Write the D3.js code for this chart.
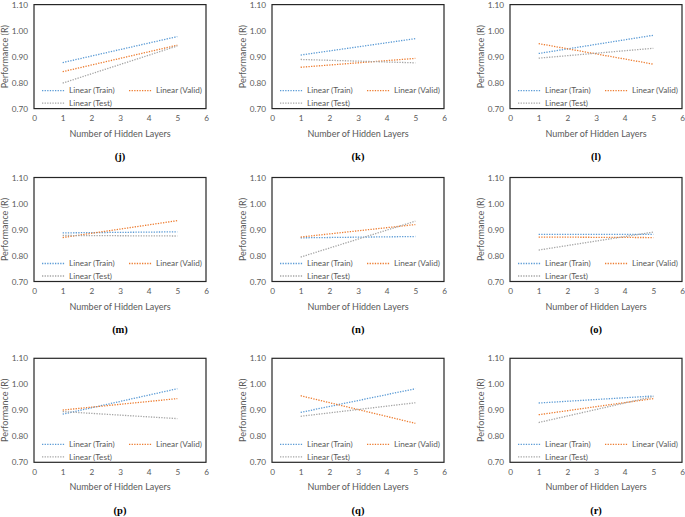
<!DOCTYPE html>
<html>
<head>
<meta charset="utf-8">
<script src="https://cdn.jsdelivr.net/npm/d3@7"></script>
<style>
  html, body { margin: 0; padding: 0; background: #fff; }
  svg { display: block; }
  .tick text { font-family: Lato, "Liberation Sans", sans-serif; fill: #595959; }
</style>
</head>
<body>
<svg id="chart" width="685" height="517"></svg>
<script>
// ---- data ----
const panelLabels = ["(j)", "(k)", "(l)", "(m)", "(n)", "(o)", "(p)", "(q)", "(r)"];
const xValues = [1, 5];                // trendline endpoints (hidden layers)
const trainValues = [
  [0.877, 0.977], [0.906, 0.969], [0.912, 0.982],
  [0.887, 0.891], [0.868, 0.873], [0.881, 0.881],
  [0.885, 0.983], [0.892, 0.983], [0.928, 0.955]
];
const validValues = [
  [0.842, 0.944], [0.859, 0.893], [0.950, 0.871],
  [0.869, 0.934], [0.871, 0.919], [0.871, 0.869],
  [0.901, 0.945], [0.956, 0.850], [0.883, 0.945]
];
const testValues = [
  [0.798, 0.941], [0.889, 0.876], [0.894, 0.932],
  [0.877, 0.875], [0.794, 0.932], [0.821, 0.890],
  [0.895, 0.868], [0.877, 0.929], [0.853, 0.953]
];
const seriesNames = ["Linear (Train)", "Linear (Valid)", "Linear (Test)"];
const seriesColors = ["#5B9BD5", "#ED7D31", "#A5A5A5"];
const xTicks = [0, 1, 2, 3, 4, 5, 6];
const yTicks = [0.70, 0.80, 0.90, 1.00, 1.10];
const xTitle = "Number of Hidden Layers";
const yTitle = "Performance (R)";

// ---- layout ----
const colLefts = [34, 272, 510];
const rowTops = [4.6, 177.5, 358.3];
const boxW = 172, boxH = 104;

const svg = d3.select("#chart");
const font = "Lato, 'Liberation Sans', sans-serif";
const allSeries = [trainValues, validValues, testValues];

panelLabels.forEach((lab, i) => {
  const col = i % 3, row = Math.floor(i / 3);
  const g = svg.append("g").attr("transform", `translate(${colLefts[col]},${rowTops[row]})`);
  const x = d3.scaleLinear().domain([0, 6]).range([0, boxW]);
  const y = d3.scaleLinear().domain([0.7, 1.1]).range([boxH, 0]);

  // y axis
  const ya = g.append("g")
    .call(d3.axisLeft(y).tickValues(yTicks).tickFormat(d3.format(".2f")).tickSize(0).tickPadding(6));
  ya.select(".domain").remove();
  ya.selectAll("text").style("font-size", "8.2px");

  // x axis
  const xa = g.append("g").attr("transform", `translate(0,${boxH})`)
    .call(d3.axisBottom(x).tickValues(xTicks).tickFormat(d3.format("d")).tickSize(0).tickPadding(7));
  xa.select(".domain").remove();
  xa.selectAll("text").style("font-size", "8.2px");

  // trendlines
  const line = d3.line().x(d => x(d[0])).y(d => y(d[1]));
  allSeries.forEach((s, k) => {
    const pts = xValues.map((xv, j) => [xv, s[i][j]]);
    g.append("path").attr("d", line(pts))
      .attr("fill", "none").attr("stroke", seriesColors[k])
      .attr("stroke-width", 1.3).attr("stroke-dasharray", "1.3 1.3");
  });

  // legend
  const legPos = [[8, boxH - 18], [95, boxH - 18], [8, boxH - 5.5]];
  seriesNames.forEach((name, k) => {
    const [lx, ly] = legPos[k];
    g.append("line").attr("x1", lx).attr("x2", lx + 23).attr("y1", ly).attr("y2", ly)
      .attr("stroke", seriesColors[k]).attr("stroke-width", 1.3).attr("stroke-dasharray", "1.3 1.3");
    g.append("text").attr("x", lx + 27).attr("y", ly).attr("dy", "0.35em")
      .attr("font-family", font).attr("font-size", "8.2px").attr("fill", "#595959").text(name);
  });

  // plot box
  g.append("rect").attr("x", 0).attr("y", 0).attr("width", boxW).attr("height", boxH)
    .attr("fill", "none").attr("stroke", "#262626").attr("stroke-width", 1.2);

  // axis titles
  g.append("text").attr("x", boxW / 2).attr("y", 129).attr("text-anchor", "middle")
    .attr("dy", "0.35em").attr("font-family", font).attr("font-size", "9px").attr("fill", "#595959").text(xTitle);
  g.append("text").attr("transform", `translate(-29.5,${boxH / 2}) rotate(-90)`)
    .attr("text-anchor", "middle").attr("dy", "0.35em")
    .attr("font-family", font).attr("font-size", "9px").attr("fill", "#595959").text(yTitle);

  // panel caption
  g.append("text").attr("x", boxW / 2).attr("y", 152).attr("text-anchor", "middle")
    .attr("dy", "0.35em").attr("font-family", "'Liberation Serif', 'DejaVu Serif', serif")
    .attr("font-size", "10.5px").attr("font-weight", "bold").attr("fill", "#000").text(lab);
});
</script>
</body>
</html>
